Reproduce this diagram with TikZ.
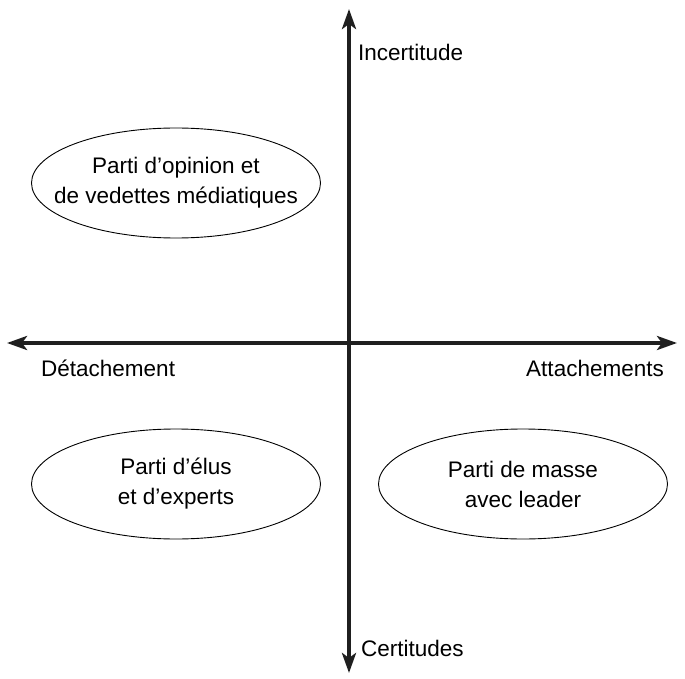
\documentclass[tikz,border=0pt]{standalone}
\usepackage{fontspec}
\setmainfont{Liberation Sans}
\usetikzlibrary{arrows.meta,shapes.geometric}
\begin{document}
\begin{tikzpicture}[x=1pt,y=-1pt,
  axis/.style={line width=4.5pt,color=black!88,-{Stealth[length=20pt,width=14pt,inset=5pt]}},
  party/.style={ellipse,draw,line width=0.9pt,minimum width=289pt,minimum height=110pt,inner sep=0pt},
  ptext/.style={align=center,font=\fontsize{22.5}{30}\selectfont,inner sep=0pt},
  lab/.style={font=\fontsize{22.5}{26}\selectfont,inner sep=0pt}]
\useasboundingbox (0,0) rectangle (685,679);
\coordinate (top) at (349,9);
\coordinate (bot) at (349,673);
\coordinate (left) at (7,343);
\coordinate (right) at (677,343);
\coordinate (mid) at (349,343);
\draw[axis] (mid) -- (top);
\draw[axis] (mid) -- (bot);
\draw[axis] (mid) -- (left);
\draw[axis] (mid) -- (right);
\node[lab,anchor=west] (inc) at (358,52) {Incertitude};
\node[lab,anchor=west] (cert) at (361,648) {Certitudes};
\node[lab,anchor=west] (det) at (41,368) {Détachement};
\node[lab,anchor=east] (att) at (664,368) {Attachements};
\node[party] (op) at (176,183) {};
\node[ptext] (opt) at (op.center) {Parti d’opinion et\\de vedettes médiatiques};
\node[party] (el) at (176,484) {};
\node[ptext] (elt) at (el.center) {Parti d’élus\\et d’experts};
\node[party] (ma) at (523,484) {};
\node[ptext] (mat) at (ma.center) {Parti de masse\\avec leader};
\end{tikzpicture}
\end{document}
